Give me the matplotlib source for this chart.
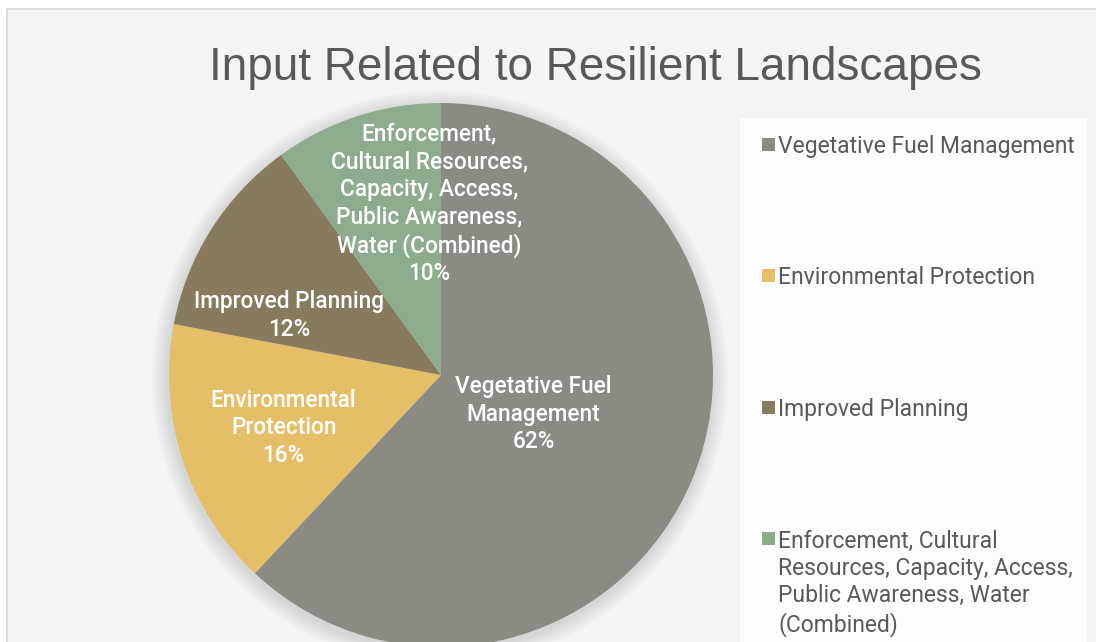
import math
import matplotlib
matplotlib.use("Agg")
import matplotlib.pyplot as plt
from matplotlib.patches import Rectangle, Circle

categories = [
    "Vegetative Fuel Management",
    "Environmental Protection",
    "Improved Planning",
    "Enforcement, Cultural Resources, Capacity, Access, Public Awareness, Water (Combined)",
]
shares = [62, 16, 12, 10]
slice_labels = [
    "Vegetative Fuel\nManagement",
    "Environmental\nProtection",
    "Improved Planning",
    "Enforcement,\nCultural Resources,\nCapacity, Access,\nPublic Awareness,\nWater (Combined)",
]
legend_labels = [
    "Vegetative Fuel Management",
    "Environmental Protection",
    "Improved Planning",
    "Enforcement, Cultural\nResources, Capacity, Access,\nPublic Awareness, Water\n(Combined)",
]
colors = ["#8b8b84", "#e5bf68", "#887a5d", "#8cac8d"]

# label placement: fraction of radius and angle nudge (degrees) per slice
label_r = [0.37, 0.61, 0.60, 0.63]
label_nudge = [-1.5, 0.5, 11.0, -14.0]

W, H = 1096, 642
cx, cy, R = 441, 375, 272

fig = plt.figure(figsize=(W / 100, H / 100), dpi=100)
fig.patch.set_facecolor("white")

# chart area background with thin border, white legend panel
bg = fig.add_axes([0, 0, 1, 1])
bg.set_xlim(0, W)
bg.set_ylim(H, 0)
bg.axis("off")
bg.add_patch(Rectangle((7, 9), W, H, facecolor="#f4f4f4", edgecolor="#d6d6d6", lw=1.2))
bg.add_patch(Rectangle((740, 118), 347, H, facecolor="#fdfdfd", edgecolor="none"))

# legend drawn by hand so the square sits on the first line of each entry
for i, (lab, col) in enumerate(zip(legend_labels, colors)):
    yc = 144 + i * 131.5
    bg.add_patch(Rectangle((762, yc - 6.5), 13, 13, facecolor=col, edgecolor="none"))
    bg.text(778, yc - 9, lab, ha="left", va="top", fontsize=16.5,
            fontfamily="Roboto", color="#595959", linespacing=1.24)

ax = fig.add_axes([0, 0, 1, 1])
ax.patch.set_alpha(0)

# soft shadow under the pie
for i in range(10):
    ax.add_patch(Circle((-0.004, -0.012), 1.0 + 0.006 * (10 - i), color="black",
                        alpha=0.01, lw=0, zorder=0))

wedges, _ = ax.pie(shares, colors=colors, startangle=90, counterclock=False,
                   radius=1.0, wedgeprops=dict(linewidth=0))
for w in wedges:
    w.set_zorder(2)

start = 90.0
for i, v in enumerate(shares):
    sweep = 360.0 * v / sum(shares)
    mid = start - sweep / 2 + label_nudge[i]
    start -= sweep
    x = label_r[i] * math.cos(math.radians(mid))
    y = label_r[i] * math.sin(math.radians(mid))
    ax.text(x, y, f"{slice_labels[i]}\n{v}%", ha="center", va="center",
            color="white", fontsize=16.3, fontfamily="Roboto", fontweight="medium",
            linespacing=1.25, zorder=5)

ax.set_xlim(-cx / R, (W - cx) / R)
ax.set_ylim(-(H - cy) / R, cy / R)
ax.set_aspect("auto")
ax.axis("off")

fig.text(595 / W, 1 - 80 / H, "Input Related to Resilient Landscapes", ha="center",
         va="baseline", fontsize=33, color="#595959",
         fontfamily=["Liberation Sans Narrow", "Liberation Sans"])

fig.savefig("out.png", dpi=100, facecolor="white")
